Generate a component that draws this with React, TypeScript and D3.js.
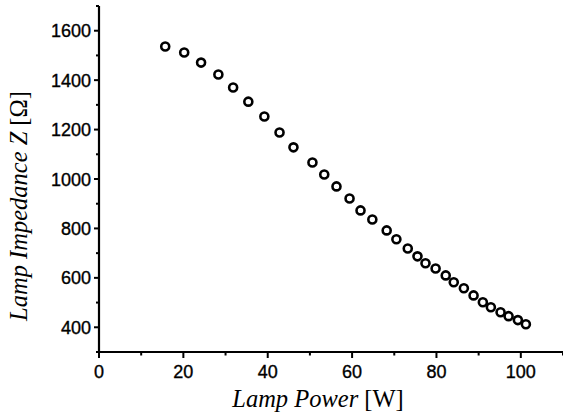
import * as d3 from 'd3';

// lamp power [W] and impedance [ohm]
const power = [
  15.7, 20.2, 24.2, 28.3, 31.8, 35.4, 39.2, 42.8, 46.1, 50.6, 53.4, 56.3, 59.4, 62.0, 64.8, 68.2,
  70.5, 73.2, 75.5, 77.4, 79.8, 82.2, 84.1, 86.5, 88.8, 91.0, 92.9, 95.2, 97.1, 99.3, 101.2,
];
const impedance = [
  1536, 1512, 1471, 1423, 1370, 1313, 1253, 1188, 1128, 1067, 1018, 970, 921, 873, 836, 792,
  756, 719, 687, 659, 638, 610, 582, 558, 529, 501, 481, 461, 445, 429, 412,
];
const xTicks = [0, 20, 40, 60, 80, 100];
const xMinor = [10, 30, 50, 70, 90, 110];
const yTicks = [400, 600, 800, 1000, 1200, 1400, 1600];
const yMinor = [300, 500, 700, 900, 1100, 1300, 1500, 1700];

const W = 563;
const H = 418;

export default function App() {
  const margin = { top: 6, right: 0, bottom: 66, left: 99 };

  const x = d3.scaleLinear().domain([0, 110]).range([margin.left, W]);
  const y = d3.scaleLinear().domain([300, 1700]).range([H - margin.bottom, margin.top]);

  const x0 = x(0);
  const y0 = y(300);
  const tickFont = '"Liberation Sans", Arial, sans-serif';
  const labelFont = '"Liberation Serif", "Times New Roman", serif';

  return (
    <svg
      width={W}
      height={H}
      style={{ position: 'absolute', left: 0, top: 0, background: '#fff' }}
    >
      {/* x axis */}
      <line x1={x0} x2={W} y1={y0} y2={y0} stroke="#000" strokeWidth={2.2} />
      {xTicks.map((t) => (
        <g key={'xt' + t}>
          <line x1={x(t)} x2={x(t)} y1={y0} y2={y0 + 6} stroke="#000" strokeWidth={2} />
          <text
            x={x(t)}
            y={y0 + 26}
            textAnchor="middle"
            fontFamily={tickFont}
            fontSize={18}
            stroke="#000"
            strokeWidth={0.35}
          >
            {t}
          </text>
        </g>
      ))}
      {xMinor.map((t) => (
        <line key={'xm' + t} x1={x(t)} x2={x(t)} y1={y0} y2={y0 + 3.5} stroke="#000" strokeWidth={2} />
      ))}

      {/* y axis */}
      <line x1={x0} x2={x0} y1={y(1700)} y2={y0} stroke="#000" strokeWidth={2.2} />
      {yTicks.map((t) => (
        <g key={'yt' + t}>
          <line x1={x0 - 5} x2={x0} y1={y(t)} y2={y(t)} stroke="#000" strokeWidth={2} />
          <text
            x={x0 - 8}
            y={y(t) + 6.5}
            textAnchor="end"
            fontFamily={tickFont}
            fontSize={18}
            stroke="#000"
            strokeWidth={0.35}
          >
            {t}
          </text>
        </g>
      ))}
      {yMinor.map((t) => (
        <line key={'ym' + t} x1={x0 - 3} x2={x0} y1={y(t)} y2={y(t)} stroke="#000" strokeWidth={2} />
      ))}

      {/* points */}
      {power.map((p, i) => (
        <circle
          key={i}
          cx={x(p)}
          cy={y(impedance[i])}
          r={4}
          fill="none"
          stroke="#000"
          strokeWidth={2.6}
        />
      ))}

      {/* axis titles */}
      <text
        x={318}
        y={407}
        textAnchor="middle"
        fontFamily={labelFont}
        fontSize={24.5}
      >
        <tspan fontStyle="italic">Lamp Power</tspan> [W]
      </text>
      <text
        transform={`translate(27,206) rotate(-90)`}
        textAnchor="middle"
        fontFamily={labelFont}
        fontSize={24.5}
      >
        <tspan fontStyle="italic">Lamp Impedance Z</tspan> [Ω]
      </text>
    </svg>
  );
}
